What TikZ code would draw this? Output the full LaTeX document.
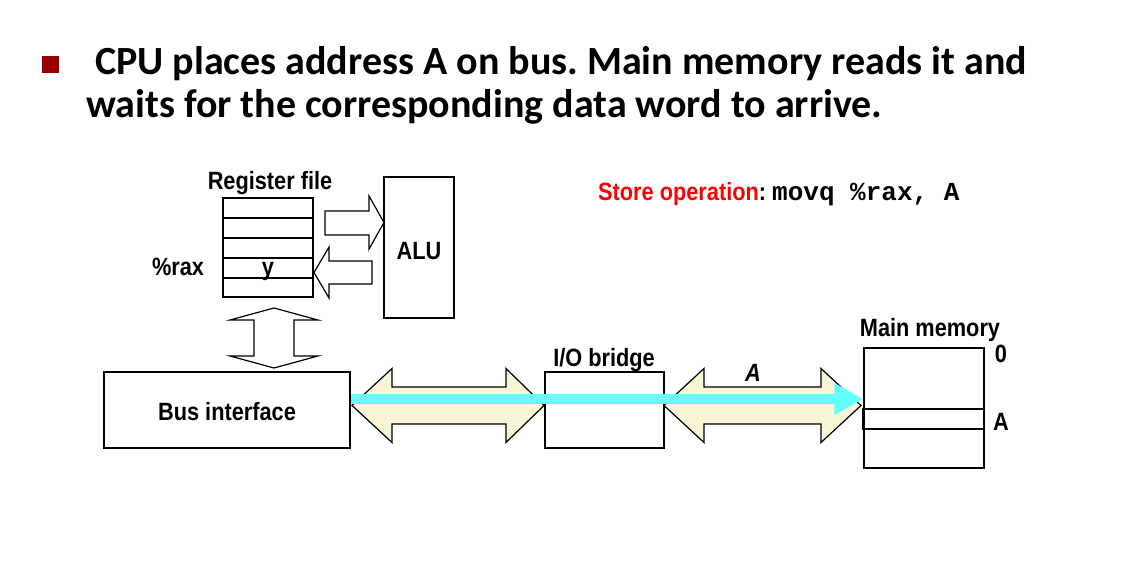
\documentclass[tikz,border=0pt]{standalone}
\usepackage{fontspec}
\setmainfont{Liberation Sans}
\newfontfamily\titlefont{Carlito}
\newfontfamily\labelfont{Liberation Sans}[FakeStretch=0.87]
\newfontfamily\codefont{Liberation Mono}
\usetikzlibrary{arrows.meta}
\definecolor{busfill}{HTML}{FAF5D7}
\definecolor{buscyan}{HTML}{66FFFF}
\definecolor{bulletred}{HTML}{990000}
\frenchspacing

\begin{document}
\begin{tikzpicture}[
        x=1pt, y=-1pt,
        box/.style={
            draw,
            rectangle,
            line width=1.2pt,
            inner sep=0pt
        },
        lbl/.style={
            font=\labelfont\bfseries\fontsize{25}{28}\selectfont,
            inner sep=0pt,
            anchor=base
        },
        blockarrow/.style={draw, line width=1.2pt, fill=white, line join=miter},
        busarrow/.style={draw, line width=1.2pt, fill=busfill, line join=miter}
    ]
        \useasboundingbox (0,0) rectangle (1134,585);

        % Heading
        \fill[bulletred] (42,56) rectangle (59,73);
        \node[anchor=base west, inner sep=0pt, font=\titlefont\bfseries\fontsize{40}{44}\selectfont] (line1) at (95,75)
            {CPU places address A on bus. Main memory reads it and};
        \node[anchor=base west, inner sep=0pt, font=\titlefont\bfseries\fontsize{40}{44}\selectfont] (line2) at (86,118)
            {waits for the corresponding data word to arrive.};

        % Register file and ALU
        \node[box, minimum width=90, minimum height=99] (regfile) at (268,247.5) {};
        \foreach \r in {218,238,258,278} {
            \draw[line width=1.2pt] (regfile.west |- 0,\r) -- (regfile.east |- 0,\r);
        }
        \node[lbl] (reglabel) at (270,190) {Register file};
        \node[lbl] (rax) at (178,275) {\%rax};
        \node[lbl] (yval) at (268,275) {y};
        \node[box, minimum width=70, minimum height=141] (alu) at (419,247.5) {};
        \node[lbl] (alulabel) at (alu.center |- 0,259) {ALU};

        % Arrows between register file and ALU
        \draw[blockarrow] (325,211) -- (369,211) -- (369,196) -- (384,222.5) -- (369,249) -- (369,235) -- (325,235) -- cycle;
        \draw[blockarrow] (372,261) -- (329,261) -- (329,247) -- (314,272.5) -- (329,298) -- (329,284) -- (372,284) -- cycle;
        \draw[blockarrow] (274,308) -- (318,320) -- (294,320) -- (294,356) -- (318,356) -- (274,368)
            -- (230,356) -- (254,356) -- (254,320) -- (230,320) -- cycle;

        % Bus interface, I/O bridge, main memory
        \node[box, minimum width=246, minimum height=76] (bus) at (227,410) {};
        \node[lbl] (buslabel) at (227,420) {Bus interface};
        \node[box, minimum width=119, minimum height=76] (bridge) at (604.5,410) {};
        \node[lbl] (bridgelabel) at (604,366) {I/O bridge};
        \node[box, minimum width=120, minimum height=120] (mem) at (924,408) {};
        \draw[line width=1.2pt] (863,409) rectangle (984,429);
        \node[lbl] (memlabel) at (930,336) {Main memory};
        \node[lbl] (addr0) at (1001,362) {0};
        \node[lbl] (addrA) at (1001,430) {A};

        % Bus arrows
        \draw[busarrow] (352,405.5) -- (392,368.5) -- (392,387) -- (506,387) -- (506,368.5) -- (544,405.5)
            -- (506,442.5) -- (506,424) -- (392,424) -- (392,442.5) -- cycle;
        \draw[busarrow] (664,405.5) -- (704,368.5) -- (704,387) -- (821,387) -- (821,368.5) -- (861,405.5)
            -- (821,442.5) -- (821,424) -- (704,424) -- (704,442.5) -- cycle;
        \node[lbl, font=\labelfont\bfseries\itshape\fontsize{25}{28}\selectfont] (busA) at (753,381) {A};
        \draw[buscyan, line width=10pt, -{Triangle[width=30pt, length=29pt]}] (bus.east |- 0,399) -- (mem.west |- 0,399);

        % Store operation
        \node[lbl, anchor=base west] (store) at (598,201)
            {\textcolor{red}{Store operation}: \codefont\bfseries\fontsize{26}{28}\selectfont movq \%rax, A};
    \end{tikzpicture}
\end{document}
